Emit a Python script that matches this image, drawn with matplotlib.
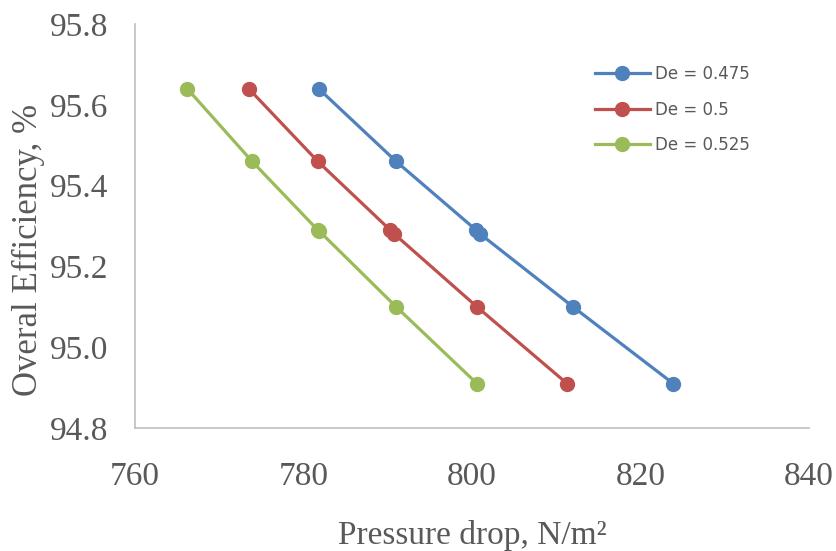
import matplotlib
matplotlib.use("Agg")
import matplotlib.pyplot as plt

# data
eff_475 = [95.64, 95.46, 95.29, 95.28, 95.10, 94.91]
eff_500 = [95.64, 95.46, 95.29, 95.28, 95.10, 94.91]
eff_525 = [95.64, 95.46, 95.29, 95.287, 95.10, 94.91]
dp_475 = [781.8, 791.0, 800.5, 801.0, 812.0, 823.9]
dp_500 = [773.5, 781.7, 790.3, 790.8, 800.6, 811.3]
dp_525 = [766.2, 773.9, 781.7, 781.9, 791.0, 800.6]
labels = ["De = 0.475", "De = 0.5", "De = 0.525"]
colors = ["#4F81BD", "#C0504D", "#9BBB59"]

text_color = "#595959"
serif = ["Liberation Serif", "DejaVu Serif"]

fig = plt.figure(figsize=(8.36, 5.51), dpi=100)
ax = fig.add_axes([0.1615, 0.2232, 0.806, 0.7332])

series = [(dp_475, eff_475), (dp_500, eff_500), (dp_525, eff_525)]
for (xs, ys), lab, col in zip(series, labels, colors):
    ax.plot(xs, ys, color=col, lw=2.3, marker="o", markersize=10, label=lab)

ax.set_xlim(760, 840)
ax.set_ylim(94.8, 95.8)
ax.set_xticks([760, 780, 800, 820, 840])
yt = [94.8, 95.0, 95.2, 95.4, 95.6, 95.8]
ax.set_yticks(yt)
ax.set_yticklabels([f"{v:.1f}" for v in yt])

for s in ["top", "right"]:
    ax.spines[s].set_visible(False)
for s in ["left", "bottom"]:
    ax.spines[s].set_color("#BFBFBF")
    ax.spines[s].set_linewidth(1.2)

ax.tick_params(length=0, labelsize=24, labelcolor=text_color)
ax.tick_params(axis="y", pad=19)
ax.tick_params(axis="x", pad=24)
for t in ax.get_xticklabels() + ax.get_yticklabels():
    t.set_family(serif)

ax.set_xlabel("Pressure drop, N/m²", fontsize=24, color=text_color,
              family=serif, labelpad=20)
ax.set_ylabel("Overal Efficiency, %", fontsize=25, color=text_color,
              family=serif)
ax.yaxis.set_label_coords(-0.133, 0.44)

leg = ax.legend(loc="upper left", bbox_to_anchor=(0.66, 0.935), frameon=False,
                fontsize=12, handlelength=3.3, labelspacing=1.05,
                handletextpad=0.3)
for t in leg.get_texts():
    t.set_color(text_color)

fig.savefig("out.png", dpi=100)
